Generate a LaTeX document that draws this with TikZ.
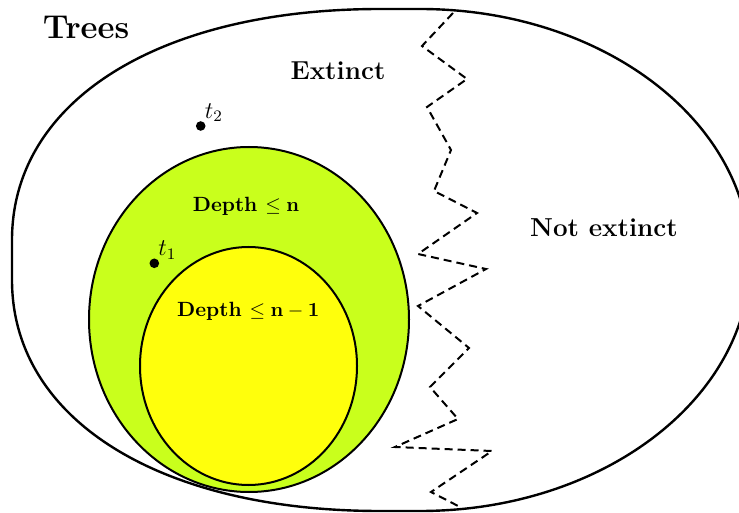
\documentclass[tikz,border=0pt]{standalone}
\usepackage{amsmath, amssymb}
\usepackage{xcolor}
\usepackage{tikz}
\definecolor{figLime}{RGB}{201,255,28}
\definecolor{figYel}{RGB}{255,255,12}
\tikzset{region/.style={draw, line width=1pt},
  dotpt/.style={circle, fill, inner sep=0pt, minimum size=4.8pt},
  setlbl/.style={font=\fontsize{13}{15}\selectfont\bfseries, anchor=base},
  depthlbl/.style={font=\fontsize{10.3}{12}\selectfont\bfseries, anchor=base}}

\begin{document}
\begin{tikzpicture}[x=0.5pt, y=-0.5pt]
\useasboundingbox (0,0) rectangle (739,513);
% outer boundary: the set of all trees
\draw[line width=1.2pt] (420,9) .. controls (602,9) and (750,121) .. (750,260)
  .. controls (750,399) and (602,511) .. (420,511) -- (380,511)
  .. controls (159,511) and (12,419) .. (12,280) -- (12,240)
  .. controls (12,101) and (159,9) .. (380,9) -- cycle;
% nested regions: depth <= n and depth <= n-1
\draw[region, fill=figLime] (249,319.5) ellipse [x radius=80pt, y radius=86.25pt];
\draw[region, fill=figYel] (248.5,366) ellipse [x radius=54.25pt, y radius=59.5pt];
% frontier between extinct and not extinct
\draw[line width=1pt, dash pattern=on 4pt off 2.5pt] (453,13) -- (422,46) -- (467,79)
  -- (427,107) -- (451,150) -- (434,191) -- (477,213) -- (418,254) -- (486,269)
  -- (418,306) -- (469,348) -- (430,387) -- (458,419) -- (395,447) -- (492,451)
  -- (431,492) -- (462,508);
% labels
\node[font=\fontsize{16.5}{20}\selectfont\bfseries, anchor=base] (Trees) at (86,39) {Trees};
\node[setlbl] (Ext) at (338,80) {Extinct};
\node[setlbl] (NotExt) at (604,236.7) {Not extinct};
\node[depthlbl] (Dn) at (246,211.7) {Depth $\leq \mathbf{n}$};
\node[depthlbl] (Dn1) at (248.3,317) {Depth $\leq \mathbf{n-1}$};
% two sample trees
\node[dotpt, label={[inner sep=0pt, font=\large]above right:$t_2$}] (t2) at (200.7,126) {};
\node[dotpt, label={[inner sep=0pt, font=\large]above right:$t_1$}] (t1) at (154.3,263.3) {};
\end{tikzpicture}
\end{document}
